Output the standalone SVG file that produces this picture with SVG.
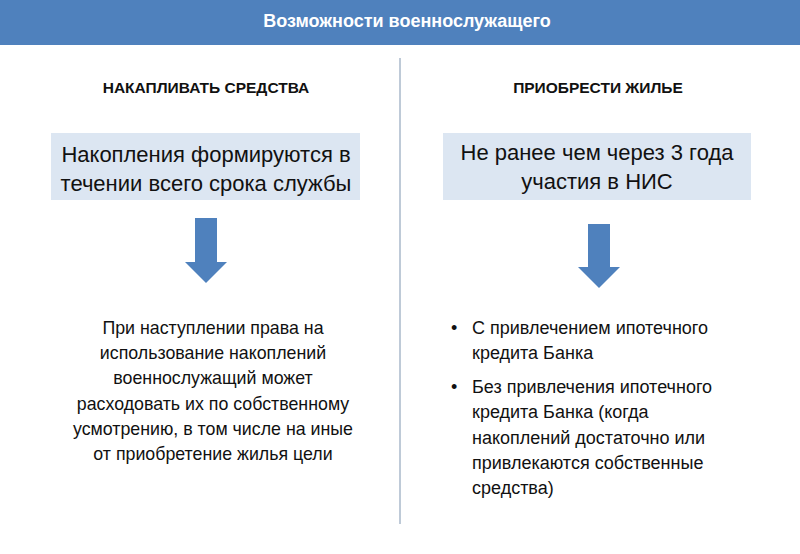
<svg xmlns="http://www.w3.org/2000/svg" width="800" height="554" viewBox="0 0 800 554">
<style>
text{font-family:"Liberation Sans","DejaVu Sans",sans-serif;fill:#111}
.h{font-weight:bold;font-size:15.5px;text-anchor:middle}
.b{font-size:22px;text-anchor:middle}
.p{font-size:17.8px;text-anchor:middle}
.r{font-size:18px}
.box{fill:#dce6f2}
.arr{fill:#4f81bd}
</style>
<rect width="800" height="554" fill="#fff"/>
<g id="header"><rect width="800" height="45" fill="#4f81bd"/>
<text x="407" y="27" style="fill:#fff;font-weight:bold;font-size:18px;text-anchor:middle">Возможности военнослужащего</text></g>
<g id="connectors">
<line x1="400" y1="58" x2="400" y2="524" stroke="#7f95b0" stroke-width="1"/>
<polygon class="arr" points="195,218 217,218 217,262 227,262 206,283 185,262 195,262"/>
<polygon class="arr" points="588,224 610,224 610,267 620,267 599,288 578,267 588,267"/>
</g>
<g id="left-title"><text class="h" x="206" y="93">НАКАПЛИВАТЬ СРЕДСТВА</text></g>
<g id="right-title"><text class="h" x="598" y="93">ПРИОБРЕСТИ ЖИЛЬЕ</text></g>
<g id="left-box"><rect class="box" x="51" y="133" width="309" height="67"/>
<text class="b" x="206" y="162">Накопления формируются в</text>
<text class="b" x="206" y="191">течении всего срока службы</text></g>
<g id="right-box"><rect class="box" x="443" y="133" width="308" height="67"/>
<text class="b" x="597" y="160">Не ранее чем через 3 года</text>
<text class="b" x="597" y="189">участия в НИС</text></g>
<g id="left-text">
<text class="p" x="213" y="334">При наступлении права на</text>
<text class="p" x="213" y="359">использование накоплений</text>
<text class="p" x="213" y="384">военнослужащий может</text>
<text class="p" x="213" y="410">расходовать их по собственному</text>
<text class="p" x="213" y="435">усмотрению, в том числе на иные</text>
<text class="p" x="213" y="460">от приобретение жилья цели</text>
</g>
<g id="right-text">
<text class="r" x="451" y="334">•</text>
<text class="r" x="472" y="334">С привлечением ипотечного</text>
<text class="r" x="472" y="359">кредита Банка</text>
<text class="r" x="451" y="393">•</text>
<text class="r" x="472" y="393">Без привлечения ипотечного</text>
<text class="r" x="472" y="418">кредита Банка (когда</text>
<text class="r" x="472" y="444">накоплений достаточно или</text>
<text class="r" x="472" y="469">привлекаются собственные</text>
<text class="r" x="472" y="494">средства)</text>
</g>
</svg>
